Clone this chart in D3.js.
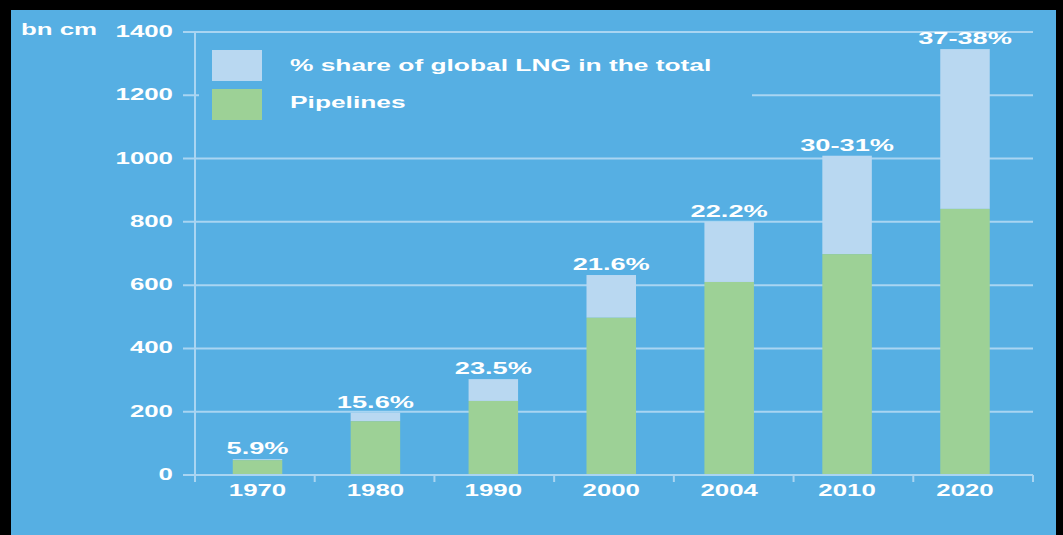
<!DOCTYPE html>
<html><head><meta charset="utf-8">
<script src="https://cdn.jsdelivr.net/npm/d3@7"></script>
<style>html,body{margin:0;padding:0;background:#000;}svg{display:block;}</style>
</head><body>
<svg id="c" width="1063" height="535"></svg>
<script>
const years = ["1970","1980","1990","2000","2004","2010","2020"];
const pipelines = [47,170,234,497,610,698,841];
const lng = [3,27,69,135,190,311,505];
const shareLabels = ["5.9%","15.6%","23.5%","21.6%","22.2%","30-31%","37-38%"];
const yTicks = [0,200,400,600,800,1000,1200,1400];
const legendLabels = ["% share of global LNG in the total","Pipelines"];
const unitLabel = "bn cm";

const BG="#56AFE3", LIGHT="#B9D8F1", GREEN="#9DD196", LINE="#A9D5F2", FONT="'Liberation Sans', Arial, sans-serif";
const SX=1.52;
const svg=d3.select("#c");
svg.append("rect").attr("x",0).attr("y",0).attr("width",1063).attr("height",535).attr("fill","#000");
svg.append("rect").attr("x",11).attr("y",10).attr("width",1045).attr("height",525).attr("fill",BG);

const y=d3.scaleLinear().domain([0,1400]).range([475,32]);
const x=d3.scaleBand().domain(years).range([195,1033]).padding(0);
const bw=x.bandwidth();
const xc=d3.scalePoint().domain(years).range([257.5,965]);
const barW=49.5;

function txt(g,s,px,py,anchor,size,sx){
  g.append("text").attr("transform",`translate(${px},${py}) scale(${sx||SX},1)`)
   .attr("text-anchor",anchor).attr("font-family",FONT).attr("font-weight","bold")
   .attr("font-size",size).attr("fill","#fff").text(s);
}

// gridlines + y ticks
const grid=svg.append("g");
grid.selectAll("line").data(yTicks.filter(d=>d>0)).join("line")
  .attr("x1",183).attr("x2",1033).attr("y1",d=>y(d)).attr("y2",d=>y(d))
  .attr("stroke",LINE).attr("stroke-width",2);
grid.selectAll("line.t").data([0]).join("line").attr("class","t")
  .attr("x1",183).attr("x2",195).attr("y1",y(0)).attr("y2",y(0)).attr("stroke",LINE).attr("stroke-width",2);

// legend box (covers gridline)
svg.append("rect").attr("x",199).attr("y",42).attr("width",553).attr("height",86).attr("fill",BG);
const lg=svg.append("g");
[LIGHT,GREEN].forEach((c,i)=>{
  lg.append("rect").attr("x",212).attr("y",50+i*39).attr("width",50).attr("height",31).attr("fill",c);
  txt(lg,legendLabels[i],290,71+i*37,"start",17,1.55);
});

// bars
const bars=svg.append("g");
years.forEach((yr,i)=>{
  const bx=xc(yr)-barW/2, w=barW;
  const tot=pipelines[i]+lng[i];
  bars.append("rect").attr("x",bx).attr("width",w).attr("y",y(tot)).attr("height",y(pipelines[i])-y(tot)).attr("fill",LIGHT);
  bars.append("rect").attr("x",bx).attr("width",w).attr("y",y(pipelines[i])).attr("height",y(0)-y(pipelines[i])).attr("fill",GREEN);
  txt(bars,shareLabels[i],bx+w/2,y(tot)-5,"middle",17,1.6);
});

// axes
const ax=svg.append("g").attr("stroke",LINE).attr("stroke-width",2);
ax.append("line").attr("x1",195).attr("x2",195).attr("y1",y(1400)).attr("y2",482);
ax.append("line").attr("x1",195).attr("x2",1033).attr("y1",y(0)).attr("y2",y(0));
years.forEach(yr=>{
  const bx=x(yr)+bw;
  ax.append("line").attr("x1",bx).attr("x2",bx).attr("y1",y(0)).attr("y2",482);
});

const lab=svg.append("g");
yTicks.forEach(v=>txt(lab,String(v),173,y(v)+5,"end",17));
years.forEach(yr=>txt(lab,yr,xc(yr),496,"middle",17));
txt(lab,unitLabel,21,35,"start",17);
</script>
</body></html>
